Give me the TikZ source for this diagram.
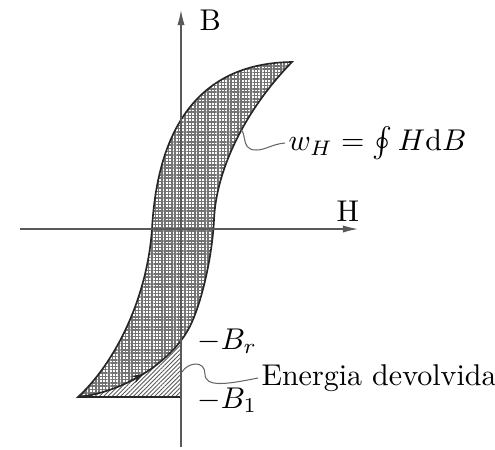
\documentclass[tikz,border=0pt]{standalone}
\usepackage{amsmath, amsfonts, amssymb}
\usepackage{tikz}
\usetikzlibrary{positioning, arrows.meta, calc, patterns.meta}

\tikzset{
    axis/.style={draw=black!65, line width=0.4pt, -{Latex[length=5pt,width=2.4pt]}},
    loopline/.style={draw=black!85, line width=0.55pt},
    leader/.style={draw=black!60, line width=0.35pt},
    label/.style={inner sep=1pt, font=\normalsize}
}

\begin{document}
\begin{tikzpicture}[x=0.333pt, y=-0.333pt]
    \useasboundingbox (0,0) rectangle (495,449);

    % Points of the loop
    \coordinate (T) at (292,62);
    \coordinate (Bt) at (78,397);
    \coordinate (Hl) at (152,229);
    \coordinate (Rb) at (188,330);
    \coordinate (Hr) at (214,220);
    \coordinate (B1) at (181,397);

    % Energy given back (hatched part)
    \begin{scope}
        \clip (Bt) rectangle (181,320);
        \fill[pattern={Lines[angle=45, distance=1pt, line width=0.3pt]}, pattern color=black!65]
            (Bt) .. controls (125,392) and (170,362) .. (Rb) -- (400,330) -- (400,397) -- cycle;
    \end{scope}

    % Hysteresis loop
    \path[loopline, pattern={Hatch[angle=0, distance=1.1pt, line width=0.5pt]}, pattern color=black!55]
        (T) .. controls (205,63) and (158,120) .. (Hl)
            .. controls (147,300) and (114,364) .. (Bt)
            .. controls (125,392) and (170,362) .. (Rb)
            .. controls (200,309) and (212,260) .. (Hr)
            .. controls (216,170) and (245,110) .. (T) -- cycle;
    \draw[loopline] (Bt) -- (B1);

    % direction mark on the lower branch
    \coordinate (mA) at (131.8,380.5);
    \coordinate (mB) at (143.9,373.6);
    \draw[draw=black!85, line width=0.55pt, -{Stealth[length=4pt,width=2.6pt]}] (mA) -- (mB);

    % Axes
    \coordinate (Hs) at (20,229);
    \coordinate (He) at (358,229);
    \coordinate (Bs) at (181,447);
    \coordinate (Be) at (181,10);
    \draw[axis] (Hs) -- (He);
    \draw[axis] (Bs) -- (Be);
    \node[label, anchor=west] (Blab) at (196,20) {B};
    \node[label] (Hlab) at (348,211) {H};

    % Remanence and tip values
    \node[label, anchor=west] (Brlab) at (194,341) {$-B_r$};
    \node[label, anchor=west] (B1lab) at (194,400) {$-B_1$};

    % Loss energy
    \node[label, anchor=west] (wlab) at (285,143) {$w_H = \oint H\mathrm{d}B$};
    \coordinate (win) at (236,128);
    \draw[leader] (win) .. controls (250,128) and (238,150) .. (256,150)
        .. controls (266,150) and (272,144) .. (wlab.west);

    % Energy given back
    \node[label, anchor=west] (elab) at (258,378) {Energia devolvida};
    \coordinate (ein) at (182,372);
    \draw[leader] (ein) .. controls (188,362) and (205,360) .. (205,374)
        .. controls (205,388) and (228,384) .. (elab.west);
\end{tikzpicture}
\end{document}
